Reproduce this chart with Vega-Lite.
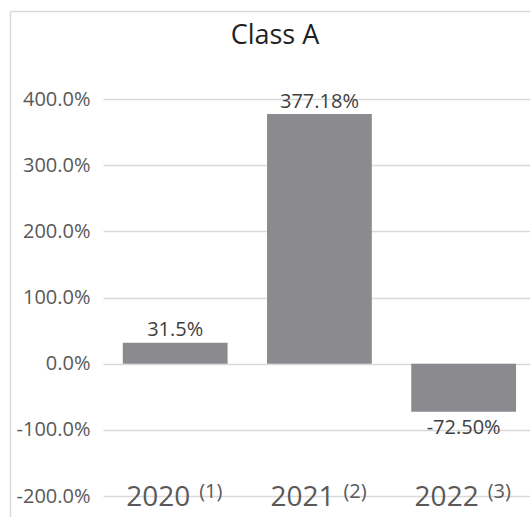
{
  "$schema": "https://vega.github.io/schema/vega-lite/v6.json",
  "width": 520,
  "height": 506,
  "autosize": {"type": "none"},
  "padding": {"left": 10, "top": 11, "right": 0, "bottom": 0},
  "background": "white",
  "config": {"view": {"stroke": null}, "font": "Open Sans"},
  "title": {"text": "Class A", "fontSize": 27, "font": "Open Sans", "fontWeight": "normal", "color": "#1f1f1f", "anchor": "middle", "frame": "group", "dx": 5, "offset": -60, "baseline": "alphabetic"},
  "data": {"values": [
    {"year": "2020", "sup": "(1)", "value": 31.5, "label": "31.5%"},
    {"year": "2021", "sup": "(2)", "value": 377.18, "label": "377.18%"},
    {"year": "2022", "sup": "(3)", "value": -72.5, "label": "-72.50%"}
  ]},
  "encoding": {
    "x": {"field": "year", "type": "nominal", "sort": null,
      "scale": {"paddingInner": 0.2734, "paddingOuter": 0.4394, "align": 0.89},
      "axis": {"orient": "top", "labels": false, "ticks": false, "title": null, "domain": true, "domainColor": "#d9d9d9", "domainWidth": 1.5, "grid": false}}
  },
  "layer": [
    {
      "mark": {"type": "bar", "color": "#8b8b8f"},
      "encoding": {
        "y": {"field": "value", "type": "quantitative",
          "scale": {"domain": [-231.7, 533], "nice": false, "zero": false},
          "axis": {"orient": "left", "offset": -93, "domain": false, "ticks": true, "tickSize": -427, "tickColor": "#d9d9d9", "tickWidth": 1.3,
            "values": [-200, -100, 0, 100, 200, 300, 400], "labelPadding": 440, "labelFontSize": 20, "labelColor": "#595959", "labelFont": "Open Sans",
            "labelExpr": "(datum.value < 0 ? '-' : '') + format(abs(datum.value), '.1f') + '%'", "labelFlush": false, "labelOverlap": false, "labelBound": false,
            "grid": false, "title": null, "zindex": 0}},
        "y2": {"datum": 0}
      }
    },
    {
      "transform": [{"filter": "datum.value >= 0"}],
      "mark": {"type": "text", "fontSize": 20, "color": "#404040", "baseline": "alphabetic", "dy": -6.5},
      "encoding": {
        "y": {"field": "value", "type": "quantitative",
          "axis": {"orient": "left", "offset": 0, "domain": true, "domainColor": "#d9d9d9", "domainWidth": 1.5, "ticks": false, "labels": false, "grid": false, "title": null}},
        "text": {"field": "label"}
      }
    },
    {
      "transform": [{"filter": "datum.value < 0"}],
      "mark": {"type": "text", "fontSize": 20, "color": "#404040", "baseline": "alphabetic", "dy": 22},
      "encoding": {
        "y": {"field": "value", "type": "quantitative", "axis": null},
        "text": {"field": "label"}
      }
    },
    {
      "mark": {"type": "text", "fontSize": 28, "color": "#595959", "baseline": "alphabetic", "align": "right", "dx": 15, "dy": 10},
      "encoding": {
        "y": {"datum": -200, "type": "quantitative", "axis": null},
        "text": {"field": "year"}
      }
    },
    {
      "mark": {"type": "text", "fontSize": 20, "color": "#595959", "baseline": "alphabetic", "align": "left", "dx": 24, "dy": 2},
      "encoding": {
        "y": {"datum": -200, "type": "quantitative", "axis": null},
        "text": {"field": "sup"}
      }
    }
  ],
  "resolve": {"axis": {"y": "independent"}}
}
